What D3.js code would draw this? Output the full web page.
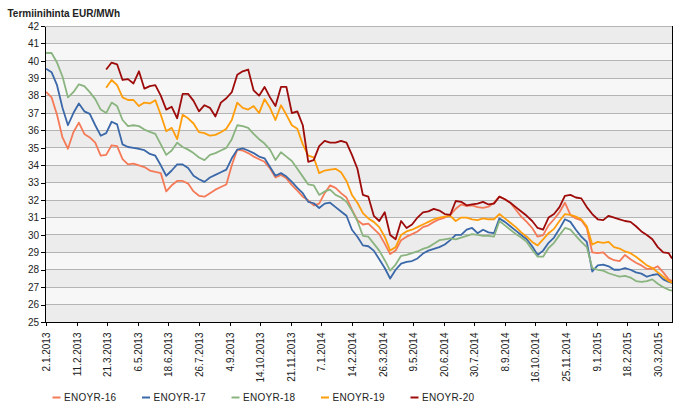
<!DOCTYPE html>
<html lang="fi">
  <head>
    <meta charset="utf-8" />
    <title>Termiinihinta EUR/MWh</title>
    <script src="https://cdn.jsdelivr.net/npm/d3@7"></script>
    <style>
      body {
        margin: 0;
        background: #fff;
      }

      svg {
        display: block;
        font-family: "Liberation Sans", Arial, sans-serif;
      }

      .axis text {
        font-size: 10px;
        fill: #222;
      }

      .axis path,
      .axis line {
        stroke: #000;
        shape-rendering: crispEdges;
      }

      .grid line {
        stroke: #b4b4b4;
        shape-rendering: crispEdges;
      }

      .series {
        fill: none;
        stroke-width: 1.8;
        stroke-linejoin: round;
      }

      .legend text {
        font-size: 10px;
        letter-spacing: 0.3px;
        fill: #222;
      }
    </style>
  </head>

  <body>
    <svg id="chart"></svg>

    <script>
      // trading day index of each sample (roughly one sample per week)
      const sampleDay = d3.range(0, 571, 5).concat([573]);

      // tick labels, one every 28 trading days
      const tickLabels = [
        "2.1.2013", "11.2.2013", "21.3.2013", "6.5.2013", "18.6.2013", "26.7.2013",
        "4.9.2013", "14.10.2013", "21.11.2013", "7.1.2014", "14.2.2014", "26.3.2014",
        "9.5.2014", "20.6.2014", "30.7.2014", "8.9.2014", "16.10.2014", "25.11.2014",
        "9.1.2015", "18.2.2015", "30.3.2015"
      ];
      const tickDays = tickLabels.map((d, i) => i * 28);

      const seriesNames = ["ENOYR-16", "ENOYR-17", "ENOYR-18", "ENOYR-19", "ENOYR-20"];
      const seriesColors = ["#f47a58", "#3a68a8", "#8ab47f", "#ff9d0a", "#9e0b0b"];

      const enoyr16 = [
        38.22, 37.9, 36.9, 35.6, 34.95, 35.9, 36.45, 35.8, 35.6, 35.3,
        34.55, 34.6, 35.15, 35.1, 34.35, 34.05, 34.1, 34.0, 33.9, 33.7,
        33.62, 33.55, 32.5, 32.85, 33.1, 33.1, 32.95, 32.5, 32.25, 32.2,
        32.4, 32.6, 32.75, 32.9, 34.0, 34.9, 34.85, 34.7, 34.5, 34.35,
        34.2, 33.82, 33.3, 33.45, 33.25, 32.86, 32.55, 32.2, 31.99, 31.7,
        31.8, 32.4, 32.85, 32.7, 32.4, 32.15, 31.45, 30.85, 30.6, 30.65,
        30.35, 30.05, 29.5, 28.9, 29.1, 29.7, 29.9, 30.05, 30.2, 30.45,
        30.55, 30.75, 30.9, 31.0, 31.15, 31.5, 31.75, 31.65, 31.7, 31.6,
        31.55, 31.62, 31.85, 32.2, 32.05, 31.85, 31.45, 31.05, 30.75, 30.4,
        29.9, 29.99, 30.55, 30.9, 31.3, 31.85, 31.15, 30.95, 30.84, 30.4,
        29.0, 28.95, 29.0, 28.7, 28.55, 28.5, 28.85, 28.6, 28.4, 28.25,
        28.05, 28.05, 28.2, 27.85, 27.45, 27.35
      ];

      const enoyr17 = [
        39.55, 39.35, 38.6, 37.3, 36.3, 37.0, 37.55, 37.1, 36.95, 36.3,
        35.7, 35.85, 36.5, 36.35, 35.2, 35.05, 35.0, 34.95, 34.87, 34.65,
        34.55, 34.0, 33.4, 33.7, 34.05, 34.05, 33.85, 33.4, 33.2, 33.05,
        33.3, 33.45, 33.6, 33.75, 34.4, 34.9, 34.97, 34.85, 34.7, 34.5,
        34.4, 33.9, 33.4, 33.55, 33.35, 33.05, 32.7, 32.4, 31.9, 31.82,
        31.55, 31.8, 31.85, 31.6, 31.35, 31.1, 30.3, 29.9, 29.4, 29.35,
        29.1, 28.6, 28.1, 27.5, 28.0, 28.35, 28.45, 28.5, 28.65, 28.93,
        29.1, 29.2, 29.3, 29.45, 29.7, 30.0, 30.0, 30.3, 30.4, 30.1,
        30.3, 30.15, 30.1, 30.95, 30.75, 30.5, 30.25, 30.0, 29.75, 29.35,
        28.85, 29.1, 29.55, 29.85, 30.35, 30.9, 30.75, 30.3, 29.9, 29.6,
        27.9, 28.25, 28.3, 28.2, 28.0, 28.0, 28.1, 28.0, 27.85, 27.78,
        27.6, 27.7, 27.75, 27.45, 27.3, 27.25
      ];

      const enoyr18 = [
        40.45, 40.45, 39.9, 39.1, 37.9, 38.2, 38.65, 38.55, 38.2, 37.8,
        37.2, 37.0, 37.6, 37.4, 36.6, 36.25, 36.3, 36.25, 36.05, 35.92,
        35.8, 35.2, 34.6, 34.85, 35.3, 35.05, 34.9, 34.7, 34.45, 34.3,
        34.6, 34.7, 34.85, 35.0, 35.5, 36.3, 36.25, 36.15, 35.8, 35.5,
        35.25, 34.9, 34.3, 34.75, 34.5, 34.25, 33.8, 33.35, 32.9, 32.85,
        32.3, 32.5, 32.6, 32.3, 32.15, 31.9, 31.4, 30.8, 29.95, 29.9,
        29.5, 29.1, 28.55, 27.95, 28.3, 28.8, 28.85, 28.95, 29.05, 29.2,
        29.3, 29.5, 29.7, 29.75, 29.8, 29.75, 29.85, 29.95, 30.05, 30.0,
        29.95, 29.95, 29.9, 30.8, 30.55, 30.3, 30.05, 29.85, 29.6, 29.15,
        28.75, 28.75, 29.25, 29.55, 29.99, 30.4, 30.3, 29.95, 29.6, 29.3,
        28.1, 28.0, 27.95, 27.8, 27.7, 27.6, 27.65, 27.55, 27.35, 27.3,
        27.35, 27.45, 27.2, 27.0, 26.85, 26.8
      ];

      // ENOYR-19 and ENOYR-20 start trading in March 2013
      const enoyr19 = [
        null, null, null, null, null, null, null, null, null, null,
        null, 38.45, 38.9, 38.6, 37.9, 37.75, 37.75, 37.4, 37.6, 37.55,
        37.74, 36.9, 35.95, 36.15, 35.5, 36.9, 36.7, 36.4, 35.9, 35.85,
        35.7, 35.75, 35.9, 36.1, 36.6, 37.6, 37.3, 37.2, 37.4, 37.0,
        37.8, 37.3, 36.6, 37.45, 36.9, 36.3, 36.1, 35.2, 34.55, 34.45,
        33.55, 33.7, 33.75, 33.8, 33.6, 33.1, 32.3, 31.85, 31.25, 30.95,
        30.75, 30.45, 29.9, 29.1, 29.3, 30.0, 30.2, 30.3, 30.45, 30.6,
        30.75, 30.9, 31.0, 31.05, 31.1, 30.8, 31.0, 31.0, 30.9, 30.85,
        30.95, 30.9, 30.9, 31.2, 30.95, 30.7, 30.45, 30.15, 29.9, 29.6,
        29.4, 29.75, 30.1, 30.35, 30.8, 31.2, 31.15, 31.05, 30.9, 30.5,
        29.45, 29.6, 29.55, 29.6, 29.3, 29.22, 29.05, 28.95, 28.75, 28.5,
        28.25, 28.1, 27.85, 27.6, 27.35, 27.25
      ];

      const enoyr20 = [
        null, null, null, null, null, null, null, null, null, null,
        null, 39.5, 39.9, 39.8, 38.9, 38.95, 38.7, 39.4, 38.4, 38.55,
        38.6, 38.0, 37.2, 37.36, 36.7, 38.1, 38.1, 37.7, 37.1, 37.45,
        37.3, 36.8, 37.6, 37.85, 38.2, 39.2, 39.4, 39.5, 38.3, 38.0,
        38.5, 37.9, 37.4, 38.5, 38.5, 37.0, 37.1, 36.3, 34.2, 34.3,
        35.1, 35.4, 35.3, 35.3, 35.4, 35.3, 34.6, 33.8, 32.3, 32.2,
        31.1, 30.8, 31.3, 30.0, 29.75, 30.8, 30.4, 30.6, 31.0, 31.3,
        31.35, 31.5, 31.4, 31.2, 31.15, 31.95, 31.9, 31.7, 31.75, 31.8,
        31.9, 31.75, 31.8, 32.2, 32.05, 31.85, 31.6, 31.35, 31.1, 30.8,
        30.4, 30.3, 31.0, 31.2, 31.6, 32.25, 32.3, 32.15, 32.1, 31.6,
        31.2, 30.9, 30.85, 31.1, 31.0, 30.9, 30.8, 30.75, 30.5, 30.2,
        30.0, 29.75, 29.3, 29.0, 28.95, 28.65
      ];

      const seriesValues = [enoyr16, enoyr17, enoyr18, enoyr19, enoyr20];

      const yTicks = d3.range(25, 43);

      /////////////////////////

      const width = 690;
      const height = 412;
      const plot = { left: 45, right: 672, top: 26, bottom: 322 };

      const svg = d3.select("#chart").attr("width", width).attr("height", height);

      const xscale = d3.scaleLinear().domain([-1, 573]).range([plot.left, plot.right]);
      const yscale = d3.scaleLinear().domain([25, 42]).range([plot.bottom, plot.top]);

      // title
      svg
        .append("text")
        .attr("x", 7.5)
        .attr("y", 16.5)
        .style("font-size", "10px")
        .style("font-weight", "bold")
        .style("fill", "#222")
        .text("Termiinihinta EUR/MWh");

      // alternating background bands
      svg
        .append("g")
        .selectAll("rect")
        .data(yTicks.slice(0, -1))
        .join("rect")
        .attr("x", plot.left)
        .attr("width", plot.right - plot.left)
        .attr("y", d => yscale(d + 1))
        .attr("height", d => yscale(d) - yscale(d + 1))
        .attr("fill", d => ((42 - d) % 2 === 1 ? "#ececec" : "#f7f7f7"));

      // horizontal grid
      svg
        .append("g")
        .attr("class", "grid")
        .selectAll("line")
        .data(yTicks)
        .join("line")
        .attr("x1", plot.left)
        .attr("x2", plot.right)
        .attr("y1", d => yscale(d))
        .attr("y2", d => yscale(d));

      // lines
      const line = d3
        .line()
        .defined(d => d[1] !== null)
        .x(d => xscale(d[0]))
        .y(d => yscale(d[1]));

      svg
        .append("g")
        .selectAll("path")
        .data(seriesValues)
        .join("path")
        .attr("class", "series")
        .attr("stroke", (d, i) => seriesColors[i])
        .attr("d", values => line(values.map((v, i) => [sampleDay[i], v])));

      // axes
      const xaxis = d3
        .axisBottom(xscale)
        .tickValues(tickDays)
        .tickFormat((d, i) => tickLabels[i])
        .tickSize(4)
        .tickSizeOuter(0);

      svg
        .append("g")
        .attr("class", "x axis")
        .attr("transform", `translate(0,${plot.bottom})`)
        .call(xaxis)
        .selectAll("text")
        .attr("transform", "rotate(-90)")
        .attr("text-anchor", "end")
        .attr("x", -10.5)
        .attr("y", 0)
        .attr("dy", "0.35em");

      const yaxis = d3.axisLeft(yscale).tickValues(yTicks).tickSize(4).tickPadding(2).tickSizeOuter(0);

      svg
        .append("g")
        .attr("class", "y axis")
        .attr("transform", `translate(${plot.left},0)`)
        .call(yaxis);

      // right frame
      svg
        .append("line")
        .attr("x1", plot.right)
        .attr("x2", plot.right)
        .attr("y1", plot.top)
        .attr("y2", plot.bottom)
        .attr("stroke", "#000")
        .style("shape-rendering", "crispEdges");

      // legend
      const legend = svg
        .append("g")
        .attr("class", "legend")
        .selectAll("g")
        .data(seriesNames)
        .join("g")
        .attr("transform", (d, i) => `translate(${52.5 + i * 89.5},397.5)`);

      legend
        .append("line")
        .attr("x1", 0)
        .attr("x2", 8)
        .attr("stroke-width", 2)
        .attr("stroke", (d, i) => seriesColors[i]);

      legend
        .append("text")
        .attr("x", 11.5)
        .attr("y", 3.5)
        .text(d => d);
    </script>
  </body>
</html>
